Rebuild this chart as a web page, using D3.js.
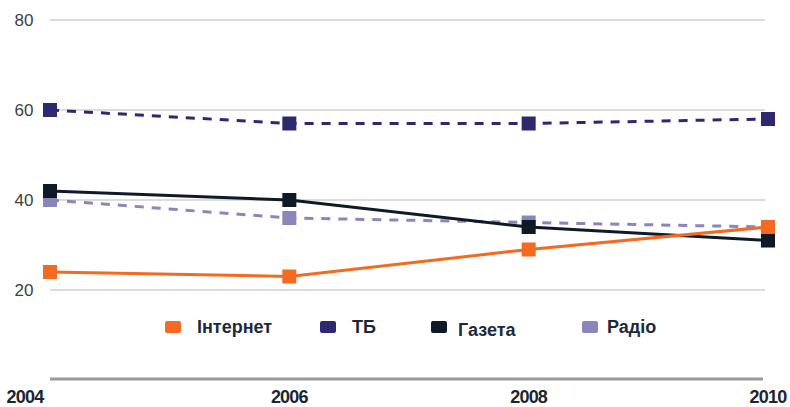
<!DOCTYPE html>
<html><head><meta charset="utf-8">
<script src="https://cdn.jsdelivr.net/npm/d3@7"></script>
<style>body{margin:0;background:#fff;}svg{display:block;font-family:"Liberation Sans",Arial,sans-serif;}</style>
</head><body>
<svg id="c" width="790" height="407"></svg>
<script>
const years = [2004, 2006, 2008, 2010];
const yTicks = [20, 40, 60, 80];
const seriesNames = ["Інтернет", "ТБ", "Газета", "Радіо"];
const internet = [24, 23, 29, 34];
const tv = [60, 57, 57, 58];
const gazeta = [42, 40, 34, 31];
const radio = [40, 36, 35, 34];

const colors = ["#f26b21", "#2e2870", "#0e1b26", "#8a86bb"];
const dashed = [false, true, false, true];
const seriesValues = [internet, tv, gazeta, radio];

const svg = d3.select("#c");
const x = d3.scaleLinear().domain([2004, 2010]).range([50, 768]);
const y = d3.scaleLinear().domain([0, 80]).range([380, 20]);

// gridlines
svg.append("g").selectAll("line").data(yTicks).join("line")
  .attr("x1", 50).attr("x2", 765)
  .attr("y1", d => y(d)).attr("y2", d => y(d))
  .attr("stroke", "#dcdcdc").attr("stroke-width", 2);
svg.append("g").selectAll("text").data(yTicks).join("text")
  .attr("x", 24).attr("y", d => y(d) + 6)
  .attr("text-anchor", "middle").attr("font-size", 17).attr("fill", "#3a3f44")
  .text(d => d);

// bottom axis
svg.append("line").attr("x1", 50).attr("x2", 763)
  .attr("y1", y(0) - 1).attr("y2", y(0) - 1)
  .attr("stroke", "#9a9a9a").attr("stroke-width", 3);
svg.append("g").selectAll("text").data(years).join("text")
  .attr("x", (d, i) => i === 0 ? 25 : (i === years.length - 1 ? 768 : x(d)))
  .attr("y", 403).attr("text-anchor", "middle")
  .attr("font-size", 18).attr("font-weight", "bold").attr("fill", "#1c2630")
  .attr("letter-spacing", -0.8)
  .text(d => d);

// lines
const line = d3.line().x((d, i) => x(years[i])).y(d => y(d));
const order = [3, 2, 0, 1];
order.forEach(k => {
  const g = svg.append("g");
  g.append("path").datum(seriesValues[k]).attr("d", line)
    .attr("fill", "none").attr("stroke", colors[k]).attr("stroke-width", 3)
    .attr("stroke-dasharray", dashed[k] ? "9,8" : null);
  g.selectAll("rect").data(seriesValues[k]).join("rect")
    .attr("x", (d, i) => x(years[i]) - 7).attr("y", d => y(d) - 7)
    .attr("width", 14).attr("height", 14).attr("fill", colors[k]);
});

// legend
const legX = [165, 320, 431, 582];
const lg = svg.append("g").selectAll("g").data(seriesNames).join("g")
  .attr("transform", (d, i) => `translate(${legX[i]},327)`);
lg.append("rect").attr("x", 0).attr("y", -6).attr("width", 16).attr("height", 12)
  .attr("rx", 2).attr("fill", (d, i) => colors[i]);
lg.append("text").attr("x", (d, i) => [32, 32, 27, 25][i]).attr("y", (d, i) => i === 2 ? 9 : 6)
  .attr("font-size", 18).attr("font-weight", "bold").attr("fill", "#1b2a3a")
  .text(d => d);
</script>
</body></html>
